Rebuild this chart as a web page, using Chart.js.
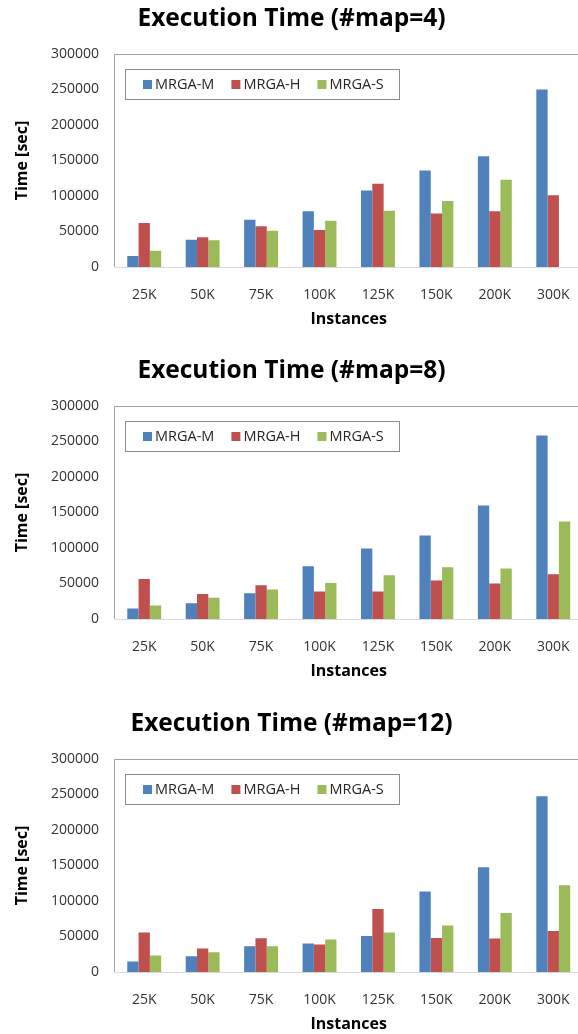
<!DOCTYPE html>
<html>
<head>
<meta charset="utf-8">
<script src="https://cdn.jsdelivr.net/npm/chart.js@4.4.0/dist/chart.umd.min.js"></script>
<style>
    html, body { margin: 0; padding: 0; background: #fff; width: 578px; height: 1034px; overflow: hidden; }
    .box { position: absolute; left: 0; width: 590px; height: 330px; }
</style>
</head>
<body>
<div class="box" style="top:0px"><canvas id="chart4" width="590" height="330"></canvas></div>
<div class="box" style="top:352px"><canvas id="chart8" width="590" height="330"></canvas></div>
<div class="box" style="top:705px"><canvas id="chart12" width="590" height="330"></canvas></div>
<script>
// Data
const categories = ['25K', '50K', '75K', '100K', '125K', '150K', '200K', '300K'];
const seriesNames = ['MRGA-M', 'MRGA-H', 'MRGA-S'];
const seriesColors = ['#4F81BD', '#C0504D', '#9BBB59'];
const yTickValues = [0, 50000, 100000, 150000, 200000, 250000, 300000];

// #map=4 (no MRGA-S bar at 300K)
const map4M = [15500, 38500, 66700, 78400, 107600, 136000, 156000, 250000];
const map4H = [62000, 41800, 57300, 52100, 117400, 75200, 78400, 101000];
const map4S = [23000, 37600, 51200, 65300, 79400, 93000, 123000, null];

// #map=8
const map8M = [14700, 22100, 36200, 74300, 99200, 117600, 160000, 258600];
const map8H = [56400, 35300, 47500, 38600, 38600, 54100, 49900, 63000];
const map8S = [18900, 30100, 41400, 50800, 61600, 72900, 71000, 137300];

// #map=12
const map12M = [14700, 22100, 36200, 40000, 50800, 113400, 147600, 247700];
const map12H = [55600, 33000, 47500, 38600, 88800, 48000, 47100, 57800];
const map12S = [23100, 27800, 36200, 45700, 55600, 65400, 83200, 122200];

const FONT = '"Open Sans", "Liberation Sans", sans-serif';

// gray frame round the plot area (bottom line comes from the x axis)
const plotFrame = {
    id: 'plotFrame',
    beforeDatasetsDraw(chart) {
        const { ctx, chartArea: a } = chart;
        ctx.save();
        ctx.strokeStyle = '#a0a0a0';
        ctx.lineWidth = 1;
        ctx.beginPath();
        ctx.moveTo(Math.round(a.left) - 0.5, a.bottom);
        ctx.lineTo(Math.round(a.left) - 0.5, Math.round(a.top) + 0.5);
        ctx.lineTo(Math.round(a.right) + 0.5, Math.round(a.top) + 0.5);
        ctx.lineTo(Math.round(a.right) + 0.5, a.bottom);
        ctx.stroke();
        ctx.restore();
    }
};

// Excel-style legend box sitting inside the plot area
const boxLegend = {
    id: 'boxLegend',
    afterDatasetsDraw(chart) {
        const { ctx, chartArea } = chart;
        const x0 = Math.round(chartArea.left) + 10;
        const y0 = Math.round(chartArea.top) + 15;
        const w = 274, h = 30;
        ctx.save();
        ctx.strokeStyle = '#8c8c8c';
        ctx.lineWidth = 1;
        ctx.strokeRect(x0 + 0.5, y0 + 0.5, w, h);
        ctx.font = '14.5px ' + FONT;
        ctx.textBaseline = 'middle';
        let x = x0 + 18;
        chart.data.datasets.forEach(ds => {
            ctx.fillStyle = ds.backgroundColor;
            ctx.fillRect(x, y0 + h / 2 - 4, 9, 9);
            ctx.fillStyle = '#262626';
            ctx.fillText(ds.label, x + 12, y0 + h / 2 + 1);
            x += 12 + ctx.measureText(ds.label).width + 17;
        });
        ctx.restore();
    }
};

function makeChart(canvasId, title, values) {
    const ctx = document.getElementById(canvasId).getContext('2d');
    return new Chart(ctx, {
        type: 'bar',
        data: {
            labels: categories,
            datasets: values.map((data, i) => ({
                label: seriesNames[i],
                data: data,
                backgroundColor: seriesColors[i],
                borderWidth: 0,
                barPercentage: 1.0,
                categoryPercentage: 0.58
            }))
        },
        options: {
            responsive: false,
            animation: false,
            devicePixelRatio: 1,
            layout: { padding: { left: 0, right: 7, top: 0, bottom: 0 } },
            plugins: {
                legend: { display: false },
                tooltip: { enabled: false },
                title: {
                    display: true,
                    text: title,
                    color: '#000',
                    font: { family: FONT, size: 24.5, weight: 'bold' },
                    padding: { top: 4, bottom: 20.6 }
                }
            },
            scales: {
                x: {
                    grid: { display: false, drawTicks: false },
                    border: { display: true, color: '#d9d9d9', width: 1 },
                    ticks: {
                        color: '#333',
                        font: { family: FONT, size: 14 },
                        padding: 20,
                        maxRotation: 0
                    },
                    title: {
                        display: true,
                        text: 'Instances',
                        color: '#000',
                        font: { family: FONT, size: 16, weight: 'bold' },
                        padding: { top: 0, bottom: 1 }
                    },
                    afterFit: scale => { scale.height = 63; }
                },
                y: {
                    min: 0,
                    max: 300000,
                    grid: { display: false, drawTicks: false },
                    border: { display: false },
                    afterBuildTicks: scale => {
                        scale.ticks = yTickValues.map(v => ({ value: v }));
                    },
                    ticks: {
                        color: '#333',
                        font: { family: FONT, size: 14 },
                        padding: 16,
                        callback: value => String(value)
                    },
                    title: {
                        display: true,
                        text: 'Time [sec]',
                        color: '#000',
                        font: { family: FONT, size: 16, weight: 'bold' },
                        padding: { top: 13, bottom: 0 }
                    },
                    afterFit: scale => { scale.width = 115; }
                }
            }
        },
        plugins: [plotFrame, boxLegend]
    });
}

makeChart('chart4', 'Execution Time (#map=4)', [map4M, map4H, map4S]);
makeChart('chart8', 'Execution Time (#map=8)', [map8M, map8H, map8S]);
makeChart('chart12', 'Execution Time (#map=12)', [map12M, map12H, map12S]);
</script>
</body>
</html>
